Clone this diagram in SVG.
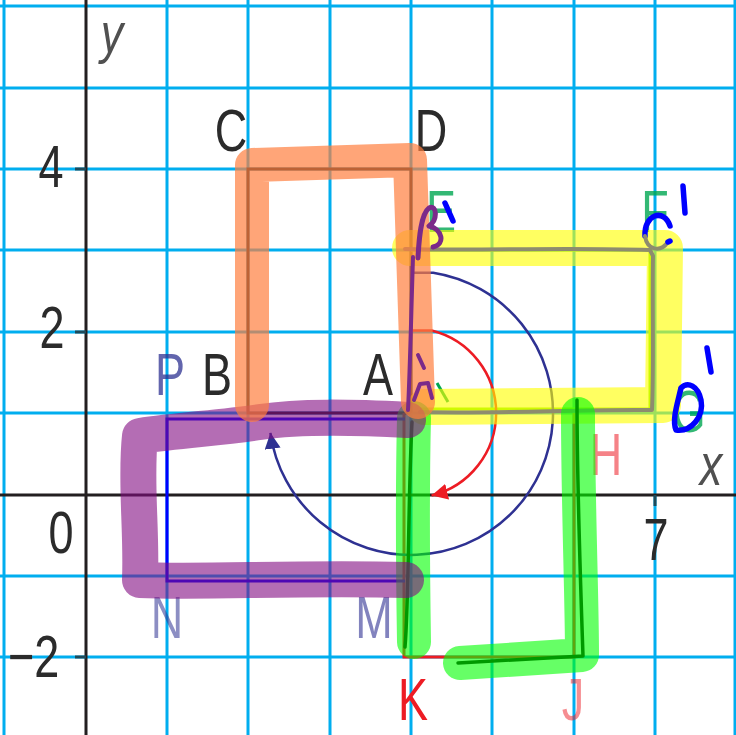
<svg xmlns="http://www.w3.org/2000/svg" width="736" height="735" viewBox="0 0 736 735">
<style>
.grid{stroke:#00AEEF;stroke-width:3;fill:none}
.axis{stroke:#231F20;stroke-width:3;fill:none}
.tick{stroke:#1E4A5A;stroke-width:3}
.lbl{font-family:"Liberation Sans",Arial,sans-serif;font-size:60px;text-anchor:middle}
.dark{fill:#2B2B2B}
.ital{font-style:italic;fill:#505050}
.hl{fill:none;stroke-linecap:round;stroke-linejoin:round}
.pen{fill:none;stroke-linecap:round;stroke-linejoin:round}
</style>
<defs>
<marker id="ahNavy" markerUnits="userSpaceOnUse" markerWidth="18" markerHeight="16" refX="16" refY="8" orient="auto"><path d="M0,0 L16,8 L0,16 z" fill="#2E3192"/></marker>
<marker id="ahRed" markerUnits="userSpaceOnUse" markerWidth="18" markerHeight="16" refX="16" refY="8" orient="auto"><path d="M0,0 L16,8 L0,16 z" fill="#ED1C24"/></marker>
</defs>
<rect width="736" height="735" fill="#FFFFFF"/>
<g id="grid" class="grid">
<path d="M4,0V735M167,0V735M248,0V735M330,0V735M411,0V735M492,0V735M574,0V735M655,0V735M735,0V735"/>
<path d="M0,6H736M0,88H736M0,169H736M0,250H736M0,332H736M0,413H736M0,576H736M0,657H736"/>
</g>
<g id="axes">
<path class="axis" d="M86,0V735M0,495H736"/>
<path class="tick" d="M75,169H86M75,332H86M75,657H86M655,495V506"/>
</g>
<g id="labels-axis">
<text class="lbl ital" style="font-size:56px" transform="translate(112,52) scale(0.8,1)">y</text>
<text class="lbl ital" transform="translate(711,485) scale(0.75,1)">x</text>
<text class="lbl dark" transform="translate(51,187) scale(0.75,1)">4</text>
<text class="lbl dark" transform="translate(52,348) scale(0.75,1)">2</text>
<text class="lbl dark" transform="translate(61,553) scale(0.75,1)">0</text>
<text class="lbl dark" transform="translate(8,677) scale(0.75,1)" style="text-anchor:start">−2</text>
<text class="lbl dark" transform="translate(656,560) scale(0.75,1)">7</text>
</g>
<g id="printed-shapes" fill="none" stroke-width="3">
<path d="M411,413H248V169H411V413" stroke="#231F20"/>
<path d="M404,413V657H574V413" stroke="#ED1C24"/>
<path d="M420,409H650V250H411" stroke="#80F000"/>
<path d="M405,419H167V581H405" stroke="#0000FF"/>
</g>
<g id="arcs" fill="none" stroke-width="2.5">
<path d="M411,272.7H433.2A142,142 0 1 1 270.4,432.8" stroke="#2E3192" marker-end="url(#ahNavy)"/>
<path d="M411,330.5H431.6A85,85 0 0 1 431.6,495.5" stroke="#ED1C24" marker-end="url(#ahRed)"/>
</g>
<g id="labels">
<text class="lbl dark" transform="translate(231,151) scale(0.75,1)">C</text>
<text class="lbl dark" transform="translate(431,151) scale(0.75,1)">D</text>
<text class="lbl dark" transform="translate(217,395) scale(0.75,1)">B</text>
<text class="lbl dark" transform="translate(378,395) scale(0.75,1)">A</text>
<text class="lbl" fill="#2E3192" fill-opacity="0.75" transform="translate(170,395) scale(0.75,1)">P</text>
<text class="lbl" fill="#2E3192" fill-opacity="0.55" transform="translate(167,638) scale(0.75,1)">N</text>
<text class="lbl" fill="#2E3192" fill-opacity="0.6" transform="translate(374,638) scale(0.75,1)">M</text>
<text class="lbl" fill="#ED1C24" transform="translate(413,720) scale(0.75,1)">K</text>
<text class="lbl" fill="#ED1C24" fill-opacity="0.5" transform="translate(573,720) scale(0.75,1)">J</text>
<text class="lbl" fill="#ED1C24" fill-opacity="0.55" transform="translate(606,475) scale(0.75,1)">H</text>
<text class="lbl" fill="#00A651" fill-opacity="0.8" transform="translate(441,232) scale(0.75,1)">E</text>
<text class="lbl" fill="#00A651" fill-opacity="0.8" transform="translate(655,232) scale(0.75,1)">F</text>
<text class="lbl" fill="#00A651" fill-opacity="0.8" transform="translate(689,432) scale(0.7,1)">G</text>
<path d="M437,383L448,402" stroke="#00A651" stroke-width="3"/>
</g>
<g id="yellow-highlight">
<path class="hl" d="M410,248L665,248L663,405L425,407" stroke="#FFFF00" stroke-opacity="0.62" stroke-width="36"/>
<path class="pen" d="M405,249C480,251 560,247 650,250L653,256C652,300 654,360 652,410C580,409 500,414 420,412" stroke="#8E8C6E" stroke-width="4"/>
</g>
<g id="green-highlight">
<path class="hl" d="M414,418C412,500 413,580 414,642" stroke="#00FF00" stroke-opacity="0.6" stroke-width="34"/>
<path class="hl" d="M578,414C578,500 582,600 582,655L460,663" stroke="#00FF00" stroke-opacity="0.6" stroke-width="34"/>
<path class="pen" d="M412,422C408,500 409,600 405,647M458,663L583,656C580,570 577,480 577,400" stroke="#009900" stroke-width="3.5"/>
</g>
<g id="purple-highlight">
<path class="hl" d="M408,420C350,417 300,416 260,422C220,428 180,430 140,436C135,480 142,530 140,580C200,583 300,577 406,580" stroke="#820C82" stroke-opacity="0.6" stroke-width="36"/>
</g>
<g id="orange-highlight">
<path class="hl" d="M252,405L252,165L410,160L418,402" stroke="#FF7F3F" stroke-opacity="0.7" stroke-width="34"/>
</g>
<g id="pen-purple" class="pen" stroke="#7B2A8A" stroke-width="4">
<path d="M413,257C411,320 410,370 408,410"/>
<path d="M418,258C419,238 421,214 429,208C437,204 438,220 429,226C442,229 446,244 433,247" stroke-width="5"/>
<path d="M418,355L424,368"/>
<path d="M414,400L420,384L428,383L432,398"/>
</g>
<g id="pen-blue" class="pen" stroke="#0000FF" stroke-width="5.5">
<path d="M445,203L453,221"/>
<path d="M670,226C664,208 644,214 645,236"/>
<path d="M645,236C647,250 660,253 668,242" stroke="#8E8C6E" stroke-width="4"/>
<path d="M668,242L670,241"/>
<path d="M683,186L685,213"/>
<path d="M707,348L711,372"/>
<path d="M681,388C677,405 672,420 676,430C692,432 704,416 701,400C698,386 688,381 681,388"/>
</g>
</svg>
